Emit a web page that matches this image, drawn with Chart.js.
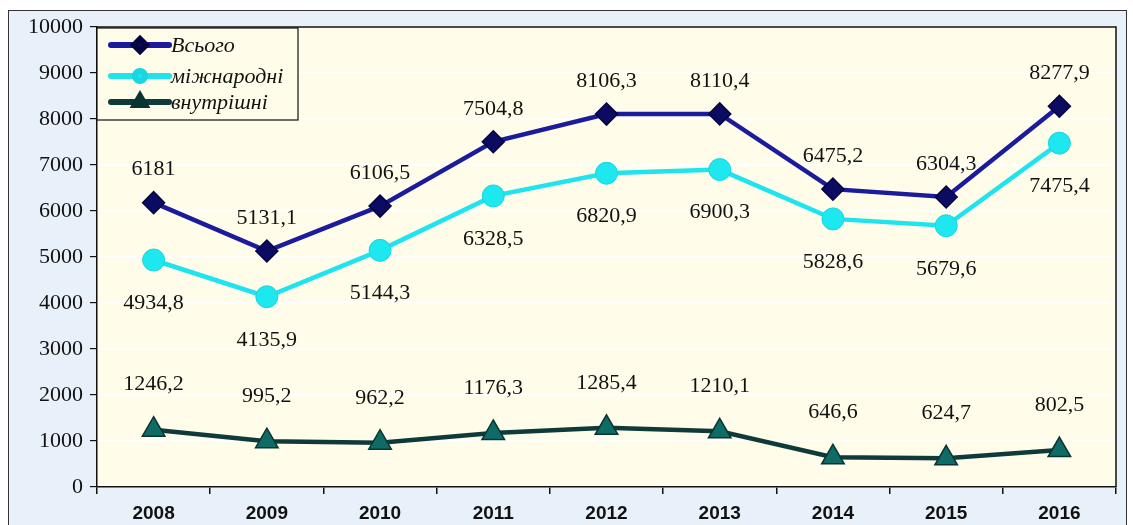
<!DOCTYPE html>
<html><head><meta charset="utf-8">
<script src="https://cdn.jsdelivr.net/npm/chart.js@4.4.0/dist/chart.umd.min.js"></script>
<style>
html,body{margin:0;padding:0;background:#fff;}
#frame{position:absolute;left:8px;top:10px;width:1119px;height:520px;background:#e8f0f9;border:1px solid #333;box-sizing:border-box;}
#wrap{position:absolute;left:0;top:0;width:1133px;height:525px;}
</style></head>
<body>
<div id="frame"></div>
<div id="wrap"><canvas id="c" width="1133" height="525"></canvas></div>
<script>
const years = ['2008','2009','2010','2011','2012','2013','2014','2015','2016'];
const total = [6181, 5131.1, 6106.5, 7504.8, 8106.3, 8110.4, 6475.2, 6304.3, 8277.9];
const intl = [4934.8, 4135.9, 5144.3, 6328.5, 6820.9, 6900.3, 5828.6, 5679.6, 7475.4];
const domestic = [1246.2, 995.2, 962.2, 1176.3, 1285.4, 1210.1, 646.6, 624.7, 802.5];
const seriesNames = ['Всього', 'міжнародні', 'внутрішні'];
const yTicks = [0,1000,2000,3000,4000,5000,6000,7000,8000,9000,10000];

const fmt = v => v.toFixed(Number.isInteger(v) ? 0 : 1).replace('.', ',');

const labelOffsets = [-33, 43, -45];

const plotBg = {
  id: 'plotBg',
  beforeDraw(chart) {
    const {ctx, chartArea: a} = chart;
    ctx.save();
    ctx.fillStyle = '#fffde9';
    ctx.fillRect(a.left, a.top, a.right - a.left, a.bottom - a.top);
    ctx.restore();
  },
  afterDatasetsDraw(chart) {
    const {ctx, chartArea: a} = chart;
    ctx.save();
    ctx.strokeStyle = '#111';
    ctx.lineWidth = 1.5;
    ctx.beginPath();
    ctx.moveTo(a.left, a.top); ctx.lineTo(a.right, a.top); ctx.lineTo(a.right, a.bottom);
    ctx.stroke();
    // data labels
    ctx.font = '22px "Liberation Serif", "Times New Roman", serif';
    ctx.fillStyle = '#111';
    ctx.textAlign = 'center';
    ctx.textBaseline = 'middle';
    chart.data.datasets.forEach((ds, i) => {
      const meta = chart.getDatasetMeta(i);
      meta.data.forEach((pt, j) => {
        ctx.fillText(fmt(ds.data[j]), pt.x, pt.y + labelOffsets[i]);
      });
    });
    // legend
    const lx = a.left, ly = a.top + 1, lw = 201, lh = 92;
    ctx.fillStyle = '#fffde9';
    ctx.fillRect(lx, ly, lw, lh);
    ctx.strokeStyle = '#111';
    ctx.lineWidth = 1.2;
    ctx.strokeRect(lx, ly, lw, lh);
    const rows = [ly + 17, ly + 48, ly + 74];
    ctx.font = 'italic 22px "Liberation Serif", "Times New Roman", serif';
    ctx.textAlign = 'left';
    chart.data.datasets.forEach((ds, i) => {
      const y = rows[i];
      ctx.strokeStyle = ds.borderColor;
      ctx.lineWidth = 6;
      ctx.lineCap = 'round';
      ctx.beginPath(); ctx.moveTo(lx + 14, y); ctx.lineTo(lx + 72, y); ctx.stroke();
      ctx.fillStyle = ds.pointBackgroundColor;
      ctx.strokeStyle = ds.pointBorderColor;
      Chart.helpers.drawPoint(ctx, {pointStyle: ds.pointStyle, radius: ds.legendRadius, borderWidth: 1}, lx + 43, y);
      ctx.fillStyle = '#111';
      ctx.fillText(ds.label, lx + 74, y + 1);
    });
    ctx.restore();
  }
};

new Chart(document.getElementById('c'), {
  type: 'line',
  data: {
    labels: years,
    datasets: [
      {label: seriesNames[0], data: total, borderColor: '#1b1b9e', borderWidth: 4.5,
       pointStyle: 'rectRot', pointRadius: 11, pointBackgroundColor: '#0b0b62', pointBorderColor: '#050540', pointBorderWidth: 1.5, legendRadius: 6},
      {label: seriesNames[1], data: intl, borderColor: '#1de4ee', borderWidth: 4.5,
       pointStyle: 'circle', pointRadius: 11, pointBackgroundColor: '#1de8f0', pointBorderColor: '#19d6e0', pointBorderWidth: 1, legendRadius: 5},
      {label: seriesNames[2], data: domestic, borderColor: '#0e3a39', borderWidth: 4.5,
       pointStyle: 'triangle', pointRadius: 13, pointBackgroundColor: '#0f6b66', pointBorderColor: '#0a3431', pointBorderWidth: 1.5, legendRadius: 6}
    ]
  },
  options: {
    responsive: false,
    animation: false,
    layout: {padding: {left: 0, top: 27, right: 17, bottom: 0}},
    plugins: {legend: {display: false}, tooltip: {enabled: false}},
    scales: {
      x: {
        offset: true,
        grid: {offset: true, drawOnChartArea: false, tickColor: '#111', tickLength: 7, lineWidth: 1.5},
        border: {color: '#111', width: 1.5},
        ticks: {color: '#111', font: {family: '"Liberation Sans", Arial, sans-serif', size: 19, weight: 'bold'}, padding: 8},
        afterFit: s => { s.height = 38; }
      },
      y: {
        min: 0, max: 10000,
        afterBuildTicks: s => { s.ticks = yTicks.map(v => ({value: v})); },
        grid: {color: '#ffffff', lineWidth: 1.2, tickColor: '#111', tickLength: 7},
        border: {color: '#111', width: 1.5},
        ticks: {color: '#111', font: {family: '"Liberation Serif", "Times New Roman", serif', size: 22}, padding: 7,
                callback: v => String(v)},
        afterFit: s => { s.width = 97; }
      }
    }
  },
  plugins: [plotBg]
});
</script>
</body></html>
